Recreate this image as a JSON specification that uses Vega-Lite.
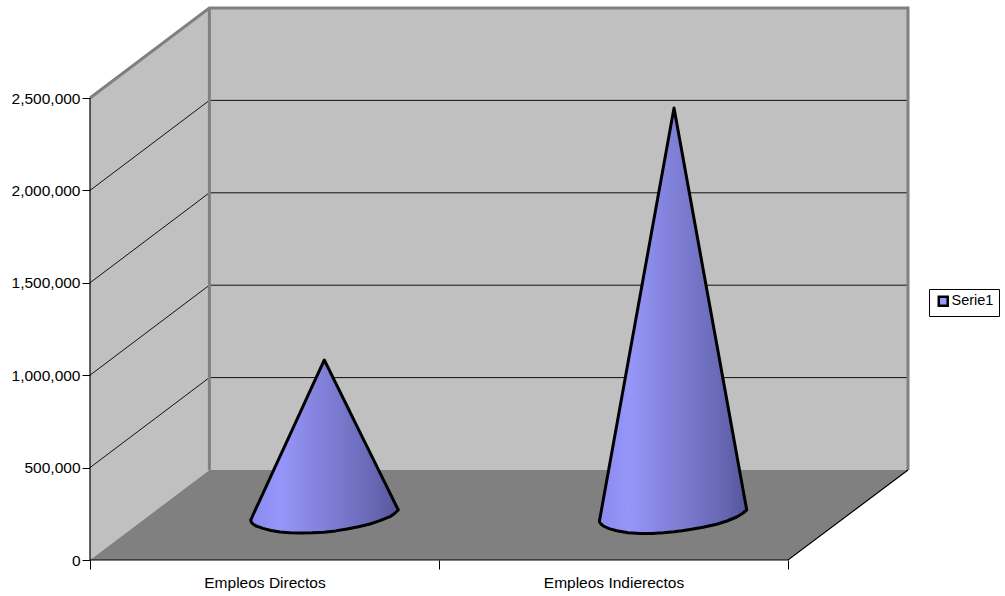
{
  "$schema": "https://vega.github.io/schema/vega-lite/v6.json",
  "width": 818,
  "height": 552,
  "autosize": {"type": "none"},
  "padding": {"left": 90, "top": 8, "right": 97, "bottom": 36},
  "background": "white",
  "view": {"stroke": null},
  "config": {"font": "Liberation Sans"},
  "datasets": {
    "walls": [
      {"part": "left", "x": 0, "top": 2500000, "low": 0},
      {"part": "left", "x": 0.342, "top": 2987013, "low": 487013},
      {"part": "back", "x": 0.342, "top": 2987013, "low": 487013},
      {"part": "back", "x": 2.3438, "top": 2987013, "low": 487013}
    ],
    "floor": [
      {"x": 0, "top": 0, "low": 0},
      {"x": 0.342, "top": 487013, "low": 0},
      {"x": 2, "top": 487013, "low": 0},
      {"x": 2.3438, "top": 487013, "low": 487013}
    ],
    "gridlines": [
      {"level": 500000, "x": 0, "y": 500000},
      {"level": 500000, "x": 0.342, "y": 987013},
      {"level": 500000, "x": 2.3438, "y": 987013},
      {"level": 1000000, "x": 0, "y": 1000000},
      {"level": 1000000, "x": 0.342, "y": 1487013},
      {"level": 1000000, "x": 2.3438, "y": 1487013},
      {"level": 1500000, "x": 0, "y": 1500000},
      {"level": 1500000, "x": 0.342, "y": 1987013},
      {"level": 1500000, "x": 2.3438, "y": 1987013},
      {"level": 2000000, "x": 0, "y": 2000000},
      {"level": 2000000, "x": 0.342, "y": 2487013},
      {"level": 2000000, "x": 2.3438, "y": 2487013}
    ],
    "frame": [
      {"edge": "outer", "x": 0, "y": 2500000},
      {"edge": "outer", "x": 0.342, "y": 2987013},
      {"edge": "outer", "x": 2.3438, "y": 2987013},
      {"edge": "outer", "x": 2.3438, "y": 487013},
      {"edge": "corner", "x": 0.342, "y": 2987013},
      {"edge": "corner", "x": 0.342, "y": 487013}
    ],
    "axisLines": [
      {"edge": "value", "x": 0, "y": 0},
      {"edge": "value", "x": 0, "y": 2500000},
      {"edge": "front", "x": 0, "y": 0},
      {"edge": "front", "x": 2, "y": 0},
      {"edge": "front", "x": 2.3438, "y": 487013}
    ],
    "cones": [
      {"category": "Empleos Directos", "series": "Serie1", "x": 0.4605, "top": 216450, "low": 216450},
      {"category": "Empleos Directos", "series": "Serie1", "x": 0.4628, "top": 225650, "low": 202922},
      {"category": "Empleos Directos", "series": "Serie1", "x": 0.467, "top": 243507, "low": 194805},
      {"category": "Empleos Directos", "series": "Serie1", "x": 0.4756, "top": 278680, "low": 183983},
      {"category": "Empleos Directos", "series": "Serie1", "x": 0.4857, "top": 319806, "low": 177489},
      {"category": "Empleos Directos", "series": "Serie1", "x": 0.4957, "top": 360931, "low": 171000},
      {"category": "Empleos Directos", "series": "Serie1", "x": 0.5186, "top": 455087, "low": 160000},
      {"category": "Empleos Directos", "series": "Serie1", "x": 0.5444, "top": 561148, "low": 152000},
      {"category": "Empleos Directos", "series": "Serie1", "x": 0.5731, "top": 678572, "low": 147500},
      {"category": "Empleos Directos", "series": "Serie1", "x": 0.6017, "top": 796537, "low": 146104},
      {"category": "Empleos Directos", "series": "Serie1", "x": 0.6361, "top": 937772, "low": 147000},
      {"category": "Empleos Directos", "series": "Serie1", "x": 0.6714, "top": 1082252, "low": 150500},
      {"category": "Empleos Directos", "series": "Serie1", "x": 0.7034, "top": 959417, "low": 157500},
      {"category": "Empleos Directos", "series": "Serie1", "x": 0.7364, "top": 833334, "low": 167749},
      {"category": "Empleos Directos", "series": "Serie1", "x": 0.7693, "top": 707252, "low": 180195},
      {"category": "Empleos Directos", "series": "Serie1", "x": 0.8023, "top": 581169, "low": 194805},
      {"category": "Empleos Directos", "series": "Serie1", "x": 0.8309, "top": 471321, "low": 212663},
      {"category": "Empleos Directos", "series": "Serie1", "x": 0.8596, "top": 361472, "low": 234308},
      {"category": "Empleos Directos", "series": "Serie1", "x": 0.8725, "top": 312230, "low": 251624},
      {"category": "Empleos Directos", "series": "Serie1", "x": 0.8834, "top": 270563, "low": 270563},
      {"category": "Empleos Indierectos", "series": "Serie1", "x": 1.4593, "top": 207251, "low": 207251},
      {"category": "Empleos Indierectos", "series": "Serie1", "x": 1.4642, "top": 258117, "low": 194805},
      {"category": "Empleos Indierectos", "series": "Serie1", "x": 1.4708, "top": 326840, "low": 183983},
      {"category": "Empleos Indierectos", "series": "Serie1", "x": 1.4871, "top": 497836, "low": 169914},
      {"category": "Empleos Indierectos", "series": "Serie1", "x": 1.5092, "top": 728897, "low": 158550},
      {"category": "Empleos Indierectos", "series": "Serie1", "x": 1.5415, "top": 1067100, "low": 147186},
      {"category": "Empleos Indierectos", "series": "Serie1", "x": 1.5759, "top": 1426949, "low": 142857},
      {"category": "Empleos Indierectos", "series": "Serie1", "x": 1.6089, "top": 1771646, "low": 143940},
      {"category": "Empleos Indierectos", "series": "Serie1", "x": 1.6427, "top": 2125002, "low": 147186},
      {"category": "Empleos Indierectos", "series": "Serie1", "x": 1.6734, "top": 2445890, "low": 152598},
      {"category": "Empleos Indierectos", "series": "Serie1", "x": 1.6963, "top": 2206712, "low": 158009},
      {"category": "Empleos Indierectos", "series": "Serie1", "x": 1.7192, "top": 1966993, "low": 165043},
      {"category": "Empleos Indierectos", "series": "Serie1", "x": 1.7564, "top": 1577924, "low": 176948},
      {"category": "Empleos Indierectos", "series": "Serie1", "x": 1.7957, "top": 1168291, "low": 193182},
      {"category": "Empleos Indierectos", "series": "Serie1", "x": 1.8252, "top": 859849, "low": 211039},
      {"category": "Empleos Indierectos", "series": "Serie1", "x": 1.853, "top": 569806, "low": 232684},
      {"category": "Empleos Indierectos", "series": "Serie1", "x": 1.8696, "top": 396104, "low": 251624},
      {"category": "Empleos Indierectos", "series": "Serie1", "x": 1.8817, "top": 270563, "low": 270563}
    ]
  },
  "encoding": {
    "x": {
      "field": "x",
      "type": "quantitative",
      "title": null,
      "scale": {"domain": [0, 2.3438], "nice": false, "zero": false},
      "axis": {
        "values": [0, 0.5, 1, 1.5, 2],
        "grid": false,
        "domain": false,
        "tickSize": 9,
        "tickColor": "black",
        "tickWidth": 1,
        "tickOpacity": {"condition": {"test": "datum.value === 0.5 || datum.value === 1.5", "value": 0}, "value": 1},
        "labelExpr": "datum.value === 0.5 ? 'Empleos Directos' : datum.value === 1.5 ? 'Empleos Indierectos' : ''",
        "labelFontSize": 15.5,
        "labelColor": "black",
        "labelPadding": 6,
        "labelOverlap": false,
        "labelFlush": false
      }
    }
  },
  "layer": [
    {
      "data": {"name": "walls"},
      "mark": {"type": "area", "color": "#c0c0c0"},
      "encoding": {
        "detail": {"field": "part"},
        "y": {
          "field": "top",
          "type": "quantitative",
          "title": null,
          "scale": {"domain": [0, 2987013], "nice": false, "zero": false},
          "axis": {
            "values": [0, 500000, 1000000, 1500000, 2000000, 2500000],
            "labelExpr": "format(datum.value, ',')",
            "grid": false,
            "domain": false,
            "tickSize": 8,
            "tickColor": "black",
            "tickWidth": 1,
            "labelFontSize": 15.5,
            "labelColor": "black",
            "labelPadding": 2
          }
        },
        "y2": {"field": "low"}
      }
    },
    {
      "data": {"name": "floor"},
      "mark": {"type": "area", "color": "#808080"},
      "encoding": {
        "y": {"field": "top", "type": "quantitative"},
        "y2": {"field": "low"}
      }
    },
    {
      "data": {"name": "gridlines"},
      "mark": {"type": "line", "color": "#111111", "strokeWidth": 1},
      "encoding": {
        "detail": {"field": "level"},
        "y": {"field": "y", "type": "quantitative"}
      }
    },
    {
      "data": {"name": "frame"},
      "mark": {"type": "line", "color": "#808080", "strokeWidth": 3},
      "encoding": {
        "detail": {"field": "edge"},
        "order": {"field": "x"},
        "y": {"field": "y", "type": "quantitative"}
      }
    },
    {
      "data": {"name": "axisLines"},
      "mark": {"type": "line", "color": "black", "strokeWidth": 1.2},
      "encoding": {
        "detail": {"field": "edge"},
        "y": {"field": "y", "type": "quantitative"}
      }
    },
    {
      "data": {"name": "cones"},
      "mark": {
        "type": "area",
        "stroke": "black",
        "strokeWidth": 3,
        "strokeJoin": "round",
        "fill": {
          "gradient": "linear",
          "x1": 0,
          "y1": 0,
          "x2": 1,
          "y2": 0,
          "stops": [
            {"offset": 0, "color": "#8a8aee"},
            {"offset": 0.2, "color": "#9696fa"},
            {"offset": 0.5, "color": "#8080d8"},
            {"offset": 0.8, "color": "#6a6ab8"},
            {"offset": 1, "color": "#56569c"}
          ]
        }
      },
      "encoding": {
        "detail": {"field": "category"},
        "y": {"field": "top", "type": "quantitative"},
        "y2": {"field": "low"}
      }
    },
    {
      "data": {"name": "cones"},
      "mark": {"type": "square", "opacity": 0},
      "encoding": {
        "y": {"field": "top", "type": "quantitative"},
        "color": {
          "field": "series",
          "type": "nominal",
          "scale": {"range": ["#9999ff"]},
          "legend": {
            "title": null,
            "orient": "none",
            "legendX": 839,
            "legendY": 281,
            "padding": 5,
            "fillColor": "white",
            "strokeColor": "black",
            "symbolType": "square",
            "symbolSize": 80,
            "symbolOffset": 2,
            "symbolOpacity": 1,
            "symbolStrokeColor": "black",
            "symbolStrokeWidth": 2.5,
            "labelFontSize": 14.5,
            "labelColor": "black",
            "labelOffset": 1
          }
        }
      }
    }
  ]
}
